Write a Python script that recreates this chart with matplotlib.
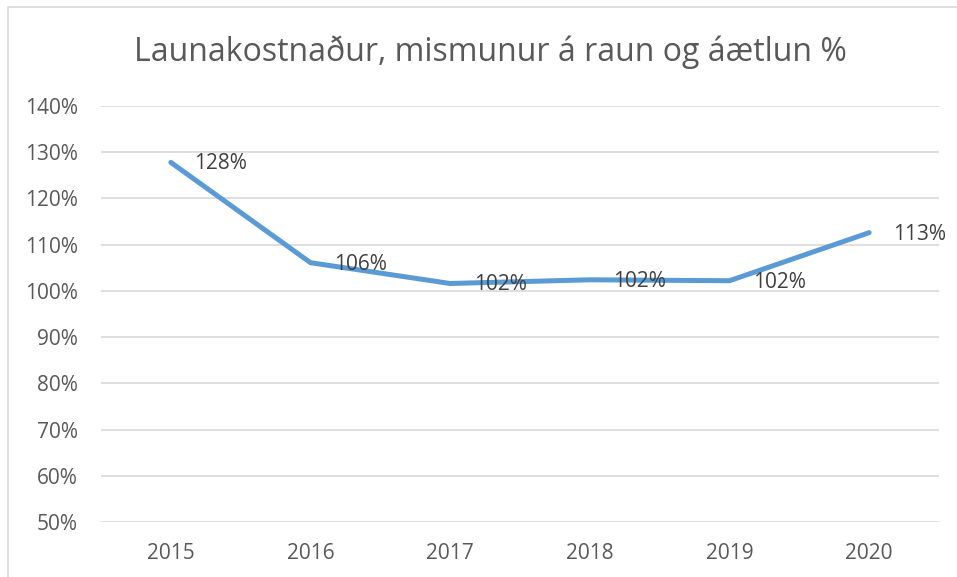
import matplotlib.pyplot as plt
from matplotlib.patches import Rectangle

# data
years = ['2015', '2016', '2017', '2018', '2019', '2020']
values = [127.8, 106.1, 101.6, 102.4, 102.2, 112.6]
labels = ['128%', '106%', '102%', '102%', '102%', '113%']
yticks = [50, 60, 70, 80, 90, 100, 110, 120, 130, 140]

plt.rcParams['font.family'] = ['Open Sans', 'DejaVu Sans']

W, H = 957, 577
fig = plt.figure(figsize=(W / 100, H / 100), dpi=100)
ax = fig.add_axes([101 / W, 1 - 522 / H, (939 - 101) / W, (522 - 106) / H])

# chart area border (cut off at right and bottom)
fig.patches.append(Rectangle((8 / W, -0.1), 1.2, 1 - 7 / H + 0.1, transform=fig.transFigure,
                             fill=False, edgecolor='#D9D9D9', lw=1.2))

x = list(range(len(years)))
ax.plot(x, values, color='#5B9BD5', lw=3.6, solid_capstyle='round', solid_joinstyle='round', zorder=3)

for xi, v, lab in zip(x, values, labels):
    ax.annotate(lab, (xi, v), xytext=(17, -1), textcoords='offset points',
                ha='left', va='center', fontsize=15, color='#404040', zorder=4)

ax.set_xlim(-0.5, 5.5)
ax.set_ylim(50, 140)
ax.set_yticks(yticks)
ax.set_yticklabels([f'{t}%' for t in yticks])
ax.set_xticks(x)
ax.set_xticklabels(years)
ax.grid(axis='y', color='#D9D9D9', lw=1.2)
ax.set_axisbelow(True)
for s in ax.spines.values():
    s.set_visible(False)
ax.tick_params(length=0, labelsize=15, colors='#595959')
ax.tick_params(axis='y', pad=16.5)
ax.tick_params(axis='x', pad=15)

fig.text(490 / W, 1 - 52 / H, 'Launakostnaður, mismunur á raun og áætlun %',
         ha='center', va='center', fontsize=23, color='#595959')

fig.savefig('out.png', dpi=100)
